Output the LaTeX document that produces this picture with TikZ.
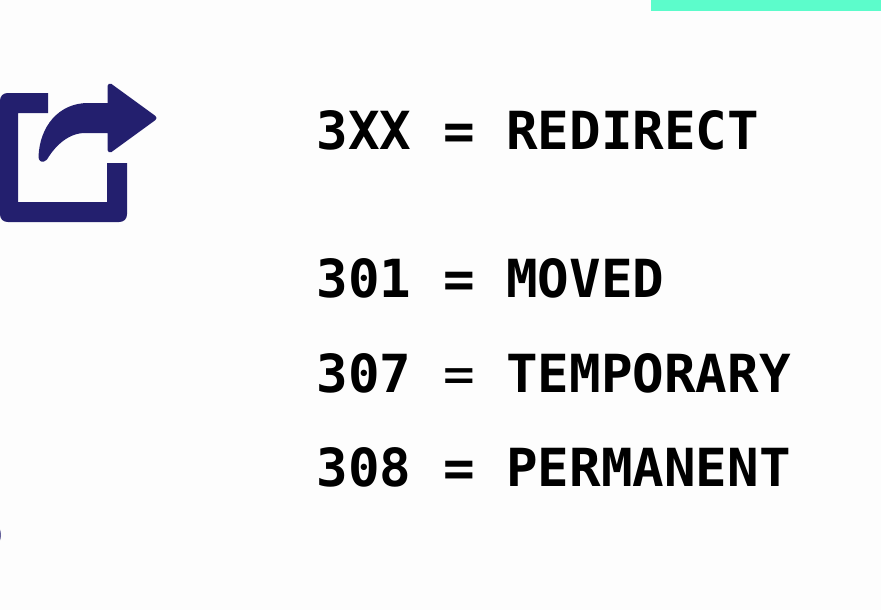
\documentclass[tikz,border=0pt]{standalone}
\usepackage{fontspec}
\setmainfont{DejaVu Sans Mono}[BoldFont={DejaVu Sans Mono Bold}]
\definecolor{ink}{HTML}{231F6E}
\definecolor{mint}{HTML}{5CFCCB}
\definecolor{paper}{HTML}{FDFDFD}
\tikzset{
  codeline/.style={anchor=base west,inner sep=0pt,font=\fontsize{52.5}{56}\selectfont\bfseries,text=black},
}
\begin{document}
\begin{tikzpicture}[x=1pt,y=-1pt]
\useasboundingbox (0,0) rectangle (881,610);
\fill[paper] (0,0) rectangle (881,610);
\fill[mint] (651,0) rectangle (881,11);
\fill[ink!70] (-15,535) circle (16);
% open box of the icon
\fill[ink] (48,93) -- (8,93) .. controls (3,93) and (0,96) .. (0,101) -- (0,214) .. controls (0,219) and (3,222) .. (8,222) -- (119,222) .. controls (124,222) and (127,219) .. (127,214) -- (127,163) -- (107,163) -- (107,202) -- (18,202) -- (18,113) -- (48,113) -- cycle;
% arrow of the icon
\fill[ink,draw=ink,line width=5pt,line join=round] (110,86) -- (154,118) -- (110,150) -- (110,130.5) -- (85,130.5) .. controls (68,130.5) and (54,143) .. (45,158) .. controls (44,160) and (41,160) .. (41,157) .. controls (42,128) and (60,105.5) .. (88,105.5) -- (110,105.5) -- cycle;
\node[codeline] (a) at (316.5,149) {3XX = REDIRECT};
\node[codeline] (b) at (316.5,297) {301 = MOVED};
\node[codeline] (c) at (316.5,392) {307 {\mdseries =} TEMPORARY};
\node[codeline] (d) at (316.5,486) {308 = PERMANENT};
\end{tikzpicture}
\end{document}
